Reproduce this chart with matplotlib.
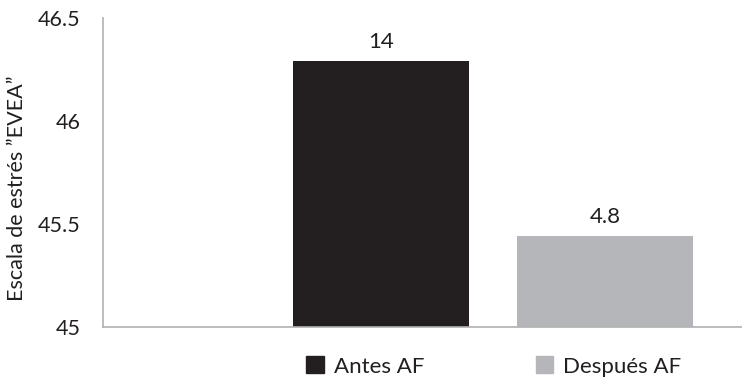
import matplotlib
matplotlib.use("Agg")
import matplotlib.pyplot as plt
from matplotlib.patches import Patch

# Stress scale (EVEA) before and after physical activity
series = ["Antes AF", "Después AF"]
values = [46.29, 45.44]
value_labels = ["14", "4.8"]
colors = ["#231f20", "#b5b6ba"]
yticks = [45, 45.5, 46, 46.5]

plt.rcParams["font.family"] = ["Lato", "DejaVu Sans"]
txt = "#231f20"

fig = plt.figure(figsize=(7.42, 3.89), dpi=100)
ax = fig.add_axes([0.1384, 0.160, 0.8616, 0.793])

x = [0, 1]
bars = ax.bar(x, [v - 45 for v in values], bottom=45, width=0.786, color=colors)
ax.bar_label(bars, labels=value_labels, padding=7, fontsize=16, color=txt)

ax.set_ylim(45, 46.5)
ax.set_xlim(-1.2424, 1.6116)
ax.set_yticks(yticks)
ax.set_yticklabels([f"{t:g}" for t in yticks])
ax.tick_params(axis="y", length=0, pad=16, labelsize=15.5, labelcolor=txt)
ax.set_xticks([])
ax.set_ylabel("Escala de estrés \u201dEVEA\u201d", fontsize=15.5, color=txt)
ax.yaxis.set_label_coords(-0.118, 0.45)

for side in ["top", "right"]:
    ax.spines[side].set_visible(False)
for side in ["left", "bottom"]:
    ax.spines[side].set_color("#b0b0b0")
    ax.spines[side].set_linewidth(1.2)

handles = [Patch(color=c, label=s) for c, s in zip(colors, series)]
fig.legend(handles=handles, loc="center left", bbox_to_anchor=(0.413, 0.058),
           ncol=2, frameon=False, fontsize=16, handlelength=0.8, handleheight=0.8,
           handletextpad=0.45, columnspacing=5.0, borderpad=0, borderaxespad=0,
           labelcolor=txt)

fig.savefig("out.png", dpi=100)
